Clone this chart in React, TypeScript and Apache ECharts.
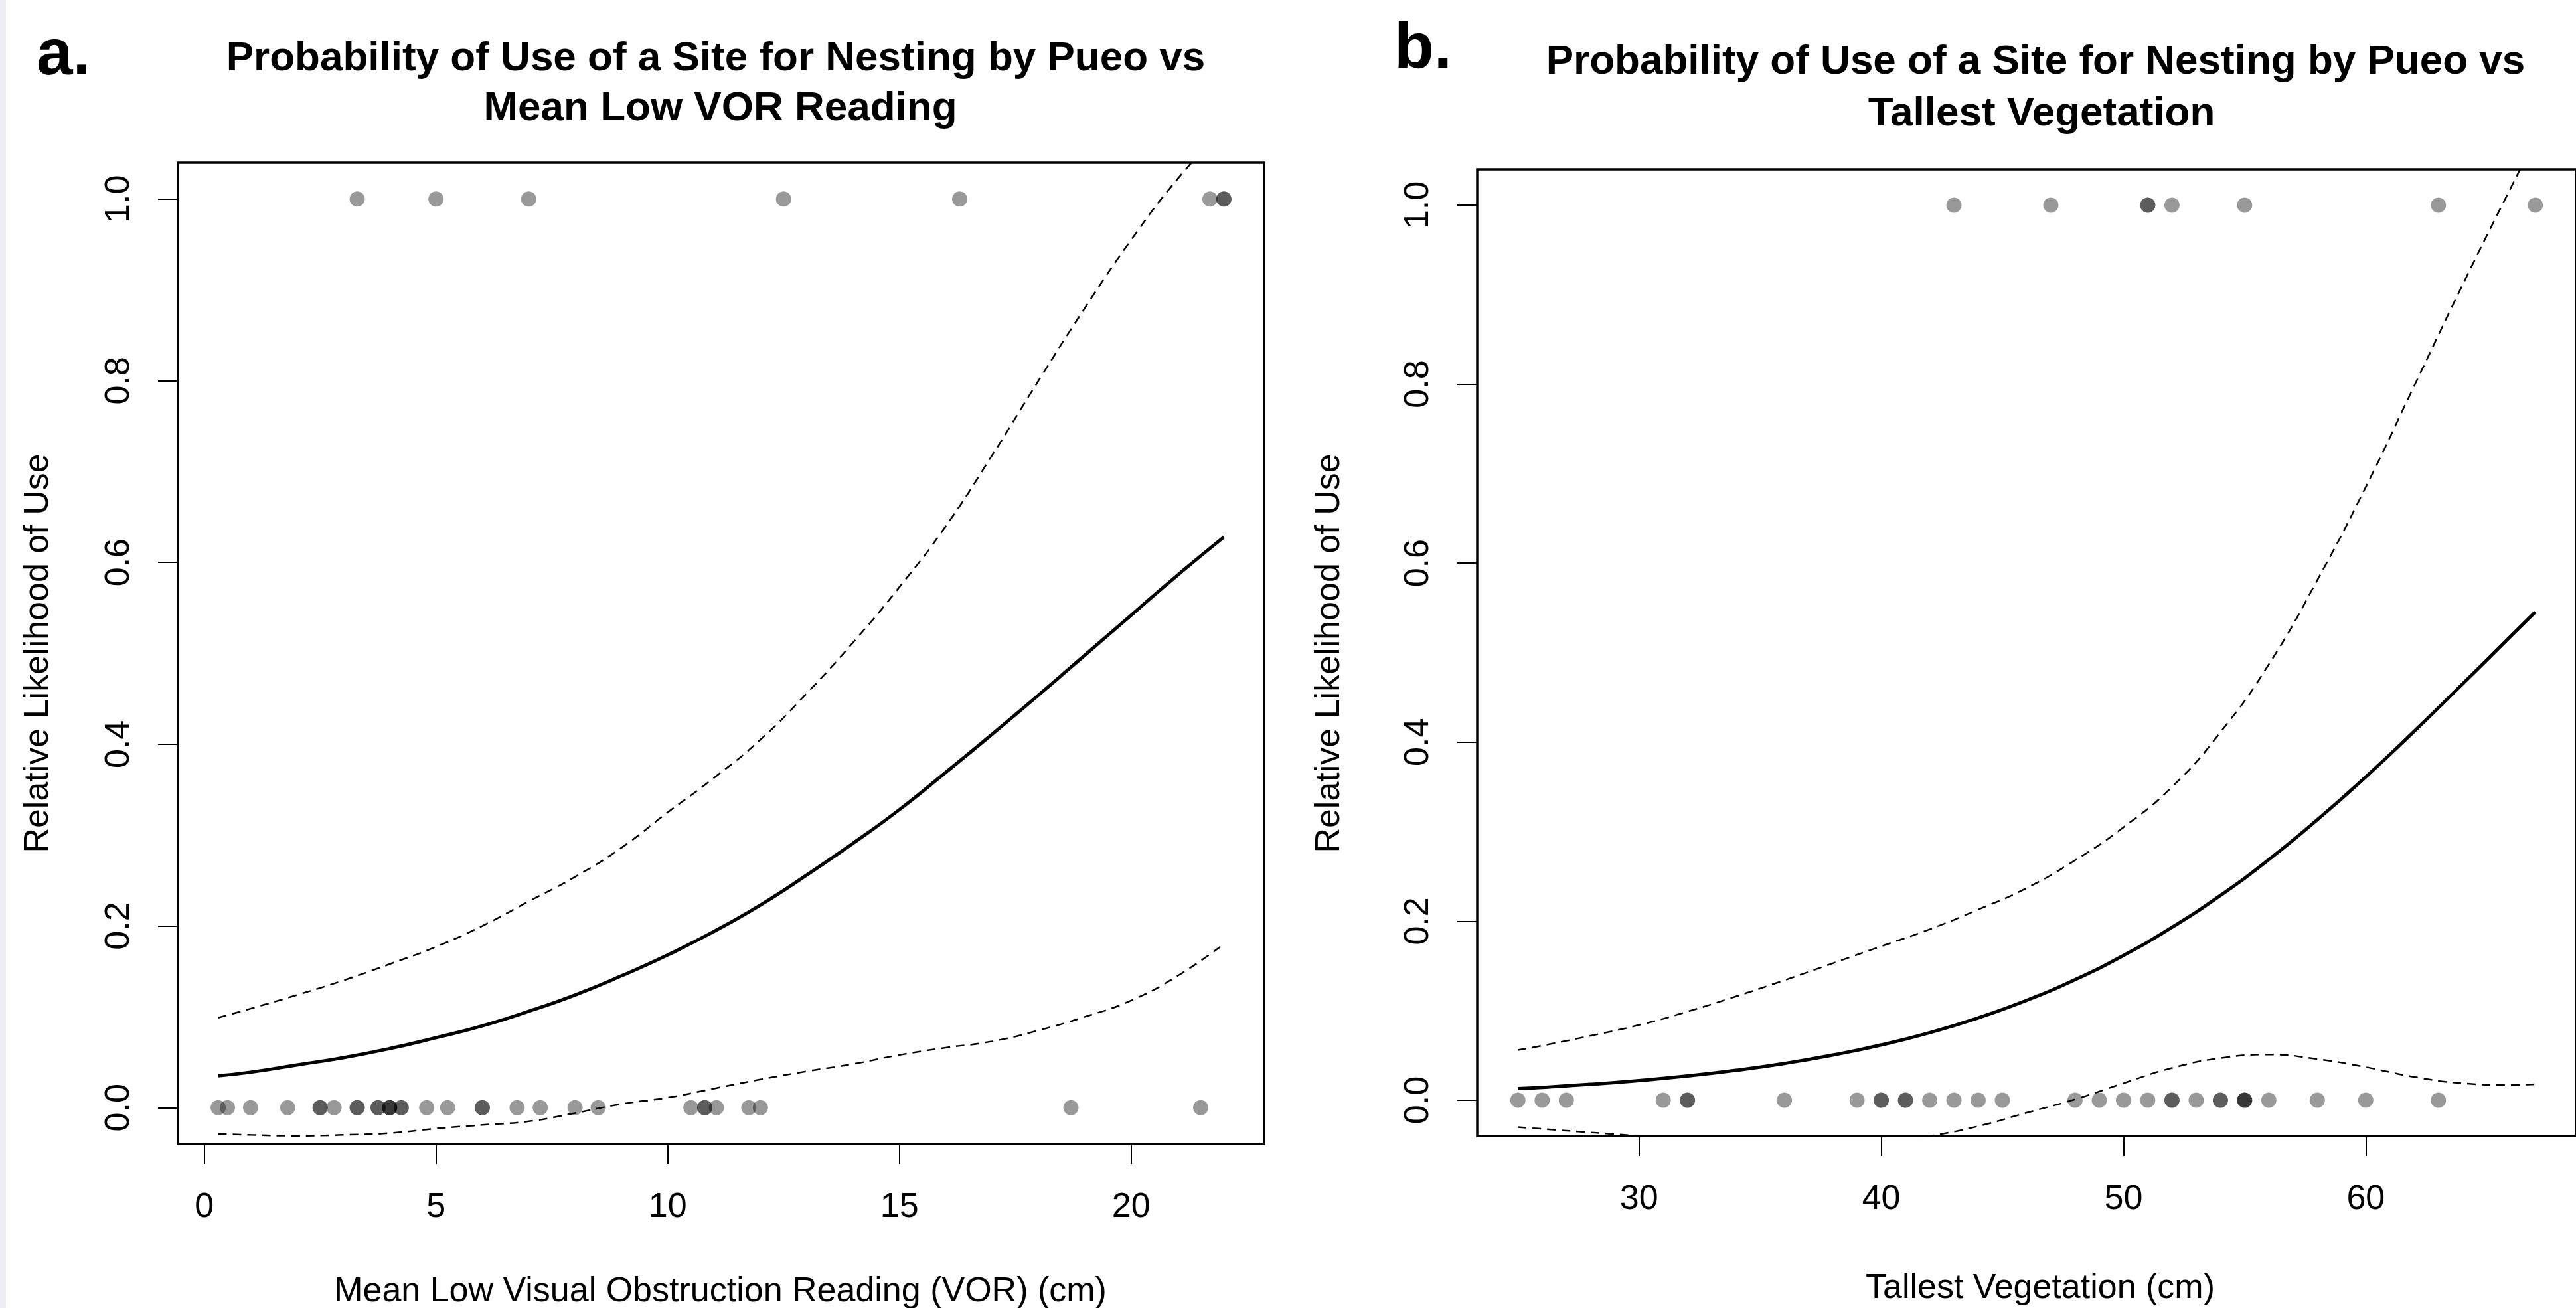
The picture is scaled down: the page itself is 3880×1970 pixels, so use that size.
import React, { useEffect, useRef } from "react";
import * as echarts from "echarts";

// ---- Panel a: Mean Low VOR Reading ----
const vorAbsent = [0.3, 0.5, 1.0, 1.8, 2.5, 2.5, 2.8, 3.3, 3.3, 3.75, 3.75, 4.0, 4.0, 4.0, 4.25, 4.25, 4.8, 5.25, 6.0, 6.0, 6.75, 7.25, 8.0, 8.5, 10.5, 10.8, 10.8, 11.05, 11.75, 12.0, 18.7, 21.5];
const vorPresent = [3.3, 5.0, 7.0, 12.5, 16.3, 21.7, 22.0, 22.0];
const vorCurveX = [0.3, 1, 2, 3, 4, 5, 6, 7, 8, 9, 10, 11, 12, 13, 14, 15, 16, 17, 18, 19, 20, 21, 22];
const vorFit = [0.035, 0.039, 0.047, 0.055, 0.065, 0.077, 0.090, 0.106, 0.124, 0.145, 0.168, 0.194, 0.223, 0.256, 0.291, 0.328, 0.369, 0.411, 0.454, 0.498, 0.542, 0.586, 0.628];
const vorUpper = [0.099, 0.109, 0.124, 0.140, 0.158, 0.177, 0.200, 0.227, 0.254, 0.286, 0.325, 0.363, 0.405, 0.456, 0.512, 0.573, 0.640, 0.718, 0.800, 0.880, 0.955, 1.022, 1.078];
const vorLower = [-0.029, -0.030, -0.031, -0.030, -0.028, -0.023, -0.019, -0.015, -0.006, 0.004, 0.011, 0.021, 0.031, 0.040, 0.048, 0.058, 0.066, 0.073, 0.085, 0.100, 0.118, 0.145, 0.180];
const vorTicks = [0, 5, 10, 15, 20];

// ---- Panel b: Tallest Vegetation ----
const vegAbsent = [25, 26, 27, 31, 32, 32, 36, 39, 40, 40, 41, 41, 42, 43, 44, 45, 48, 49, 50, 51, 52, 52, 53, 54, 54, 55, 55, 55, 56, 58, 60, 63];
const vegPresent = [43, 47, 51, 51, 52, 55, 63, 67];
const vegCurveX = [25, 26, 28, 30, 32, 34, 36, 38, 40, 42, 44, 46, 48, 50, 52, 54, 56, 58, 60, 62, 64, 66, 67];
const vegFit = [0.013, 0.0144, 0.0178, 0.022, 0.0271, 0.0334, 0.0411, 0.0505, 0.0618, 0.0755, 0.092, 0.1116, 0.1347, 0.1618, 0.1931, 0.2288, 0.2689, 0.3133, 0.3612, 0.4122, 0.4651, 0.5187, 0.5455];
const vegUpper = [0.056, 0.061, 0.072, 0.084, 0.099, 0.116, 0.134, 0.153, 0.172, 0.191, 0.213, 0.237, 0.268, 0.305, 0.350, 0.411, 0.487, 0.581, 0.685, 0.798, 0.911, 1.020, 1.073];
const vegLower = [-0.030, -0.032, -0.036, -0.040, -0.045, -0.049, -0.052, -0.052, -0.048, -0.040, -0.029, -0.014, 0.001, 0.019, 0.036, 0.047, 0.051, 0.046, 0.037, 0.026, 0.019, 0.017, 0.018];
const vegTicks = [30, 40, 50, 60];

const yTicks = [0, 0.2, 0.4, 0.6, 0.8, 1.0];

const FONT = "'Liberation Sans', Arial, Helvetica, sans-serif";

export default function App() {
  const ref = useRef<HTMLDivElement>(null);

  useEffect(() => {
    document.body.style.margin = "0";
    const chart = echarts.init(ref.current as HTMLDivElement, null, { renderer: "svg" });

    const pairs = (xs: number[], ys: number[]) => xs.map((x, i) => [x, ys[i]]);
    const pts = (abs: number[], pres: number[]) =>
      abs.map((x) => [x, 0]).concat(pres.map((x) => [x, 1]));

    const xAxisBase = (grid: number, min: number, max: number, ticks: number[]) => ({
      type: "value",
      gridIndex: grid,
      position: "bottom",
      min,
      max,
      splitLine: { show: false },
      axisLine: { show: false, onZero: false },
      axisTick: { show: true, inside: false, length: 30, lineStyle: { color: "#000", width: 2 }, customValues: ticks },
      axisLabel: { customValues: ticks, fontSize: 52, color: "#000", fontFamily: FONT, margin: 66 },
    });
    const yAxisBase = (grid: number) => ({
      type: "value",
      gridIndex: grid,
      position: "left",
      min: -0.04,
      max: 1.04,
      splitLine: { show: false },
      axisLine: { show: false, onZero: false },
      axisTick: { show: true, inside: false, length: 30, lineStyle: { color: "#000", width: 2 }, customValues: yTicks },
      axisLabel: {
        customValues: yTicks,
        rotate: 90,
        fontSize: 52,
        color: "#000",
        fontFamily: FONT,
        margin: 66,
        formatter: (v: number) => v.toFixed(1),
      },
    });

    const scatter = (idx: number, data: number[][]) => ({
      type: "scatter",
      xAxisIndex: idx,
      yAxisIndex: idx,
      data,
      symbol: "circle",
      symbolSize: 23,
      itemStyle: { color: "rgba(0,0,0,0.5)" },
      z: 2,
      silent: true,
    });
    const line = (idx: number, data: number[][], dashed: boolean) => ({
      type: "line",
      xAxisIndex: idx,
      yAxisIndex: idx,
      data,
      showSymbol: false,
      symbol: "none",
      smooth: true,
      clip: true,
      z: 3,
      silent: true,
      lineStyle: dashed
        ? { color: "#000", width: 2.5, type: [13, 9] }
        : { color: "#000", width: 5, type: "solid" },
    });

    const text = (t: string, x: number, y: number, size: number, bold: boolean, align = "center", rotation = 0) => ({
      type: "text",
      x,
      y,
      rotation,
      silent: true,
      style: {
        text: t,
        fontSize: size,
        fontWeight: bold ? "bold" : "normal",
        fontFamily: FONT,
        fill: "#000",
        textAlign: align,
        textVerticalAlign: "middle",
      },
    });

    chart.setOption({
      animation: false,
      backgroundColor: "#ffffff",
      grid: [
        { left: 268, top: 245, width: 1636, height: 1478, show: true, borderColor: "#000", borderWidth: 3.5, backgroundColor: "transparent" },
        { left: 2225, top: 255, width: 1695, height: 1456, show: true, borderColor: "#000", borderWidth: 3.5, backgroundColor: "transparent" },
      ],
      xAxis: [xAxisBase(0, -0.568, 22.868, vorTicks), xAxisBase(1, 23.32, 68.68, vegTicks)],
      yAxis: [yAxisBase(0), yAxisBase(1)],
      series: [
        scatter(0, pts(vorAbsent, vorPresent)),
        line(0, pairs(vorCurveX, vorFit), false),
        line(0, pairs(vorCurveX, vorUpper), true),
        line(0, pairs(vorCurveX, vorLower), true),
        scatter(1, pts(vegAbsent, vegPresent)),
        line(1, pairs(vegCurveX, vegFit), false),
        line(1, pairs(vegCurveX, vegUpper), true),
        line(1, pairs(vegCurveX, vegLower), true),
      ],
      graphic: [
        { type: "rect", shape: { x: 0, y: 0, width: 9, height: 1970 }, style: { fill: "#eceef2" }, silent: true },
        text("a.", 55, 78, 98, true, "left"),
        text("b.", 2100, 68, 98, true, "left"),
        text("Probability of Use of a Site for Nesting by Pueo vs", 1078, 84, 62, true),
        text("Mean Low VOR Reading", 1085, 159, 62, true),
        text("Probability of Use of a Site for Nesting by Pueo vs", 3066, 89, 62, true),
        text("Tallest Vegetation", 3075, 167, 62, true),
        text("Mean Low Visual Obstruction Reading (VOR) (cm)", 1085, 1942, 52, false),
        text("Tallest Vegetation (cm)", 3073, 1937, 52, false),
        text("Relative Likelihood of Use", 54, 984, 52, false, "center", Math.PI / 2),
        text("Relative Likelihood of Use", 1999, 984, 52, false, "center", Math.PI / 2),
      ],
    });

    return () => chart.dispose();
  }, []);

  return (
    <div
      ref={ref}
      style={{ position: "absolute", left: 0, top: 0, width: 3880, height: 1970, background: "#fff" }}
    />
  );
}
